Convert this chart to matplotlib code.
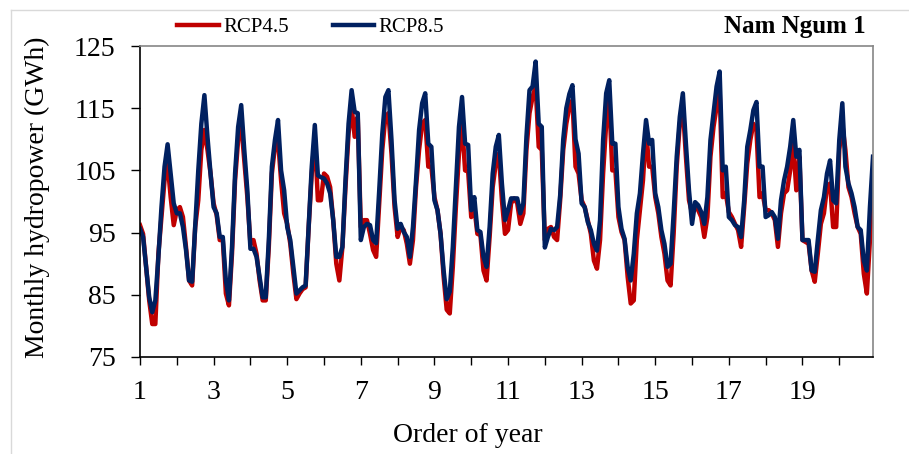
import numpy as np
import matplotlib.pyplot as plt
from matplotlib.lines import Line2D

plt.rcParams['font.family'] = ['Liberation Serif', 'DejaVu Serif']

# monthly hydropower (GWh), 20 years x 12 months
rcp45 = [96.2, 94.8, 89.5, 84.1, 80.3, 80.3, 91.6, 97.5, 103.4, 106.1, 100.7, 96.2,
         98.6, 99.1, 97.5, 92.7, 87.3, 86.5, 95.9, 100.2, 108.3, 111.5, 108.3, 104.5,
         99.7, 97.8, 93.8, 93.8, 85.2, 83.3, 91.6, 103.4, 109.9, 112.5, 106.6, 100.7,
         93.2, 93.8, 91.6, 87.3, 84.1, 84.1, 92.7, 104.5, 108.8, 109.9, 103.4, 98.1,
         96.4, 93.2, 88.4, 84.3, 85.2, 85.9, 86.2, 95.9, 104.5, 110.4, 100.2, 100.2,
         104.5, 104.0, 102.3, 97.0, 90.0, 87.3, 92.7, 102.3, 110.9, 115.2, 110.4, 113.6,
         95.9, 97.0, 97.0, 94.8, 92.2, 91.1, 99.7, 108.3, 113.6, 114.2, 107.7, 99.1,
         94.3, 95.9, 95.4, 93.2, 90.0, 93.8, 102.3, 108.3, 112.5, 113.1, 105.6, 105.6,
         100.7, 98.6, 94.8, 87.9, 82.6, 82.0, 89.5, 99.1, 107.7, 112.5, 105.0, 104.8,
         97.5, 99.1, 94.8, 94.6, 88.9, 87.3, 94.3, 102.3, 106.1, 107.7, 100.2, 94.8,
         95.4, 99.7, 100.5, 99.7, 96.4, 98.1, 108.3, 114.2, 116.8, 118.5, 108.8, 108.3,
         93.8, 95.6, 95.9, 94.3, 93.8, 100.2, 108.3, 112.5, 115.2, 116.3, 105.6, 104.5,
         100.2, 99.1, 97.0, 94.8, 90.5, 89.2, 93.8, 104.5, 112.5, 116.3, 105.0, 105.0,
         97.5, 95.1, 93.8, 87.9, 83.6, 84.1, 93.8, 98.6, 103.4, 111.5, 105.6, 105.6,
         100.7, 98.1, 94.3, 91.6, 87.3, 86.5, 94.8, 105.6, 112.5, 115.2, 107.2, 100.2,
         98.1, 99.1, 98.6, 97.5, 94.3, 97.5, 107.2, 112.0, 115.2, 117.9, 100.7, 101.3,
         98.3, 97.5, 96.4, 95.4, 92.7, 99.1, 106.1, 109.9, 112.5, 111.5, 100.7, 101.3,
         98.6, 98.6, 98.1, 97.0, 92.7, 98.1, 101.3, 101.8, 105.0, 109.3, 101.8, 107.2,
         93.8, 93.5, 93.2, 88.9, 87.1, 91.6, 96.4, 98.1, 102.3, 102.9, 95.9, 95.9,
         108.3, 112.5, 108.3, 102.3, 100.7, 98.1, 95.9, 94.8, 88.4, 85.2, 93.8, 103.4]

rcp85 = [95.6, 94.3, 89.5, 84.6, 82.2, 84.1, 91.1, 99.1, 105.6, 109.2, 104.5, 99.7,
         98.1, 98.1, 95.9, 92.2, 87.3, 87.1, 95.9, 105.0, 112.5, 117.1, 110.4, 104.5,
         99.1, 98.1, 94.3, 94.3, 87.3, 84.1, 92.7, 104.5, 112.0, 115.5, 108.3, 101.8,
         92.4, 92.4, 91.1, 87.9, 84.6, 84.6, 93.8, 105.6, 109.9, 113.1, 105.0, 101.8,
         95.9, 93.8, 89.5, 85.2, 85.7, 86.2, 86.5, 95.9, 105.6, 112.3, 104.2, 103.9,
         103.7, 102.9, 101.3, 97.0, 91.1, 91.1, 92.7, 103.4, 112.5, 117.9, 114.4, 114.2,
         93.8, 95.9, 96.4, 96.2, 93.8, 93.3, 101.8, 110.9, 116.8, 117.9, 109.9, 100.2,
         95.6, 96.4, 95.1, 94.3, 91.1, 95.9, 103.4, 111.5, 115.8, 117.4, 109.3, 108.8,
         100.2, 98.6, 94.8, 88.9, 84.3, 85.5, 92.7, 102.3, 112.0, 116.8, 109.3, 109.1,
         98.6, 100.7, 95.4, 95.1, 91.1, 89.5, 95.9, 104.5, 108.8, 110.7, 102.9, 97.0,
         98.6, 100.5, 100.5, 100.5, 98.1, 99.7, 110.4, 117.9, 118.5, 122.5, 112.5, 112.0,
         92.6, 94.3, 95.6, 95.4, 95.9, 101.0, 110.0, 115.0, 117.3, 118.7, 110.0, 107.7,
         99.7, 99.1, 96.7, 95.4, 93.2, 92.1, 97.0, 109.9, 117.4, 119.5, 109.3, 109.3,
         99.1, 95.6, 94.0, 89.5, 87.3, 91.6, 98.1, 101.3, 107.7, 113.1, 109.3, 109.9,
         101.3, 99.1, 95.4, 93.2, 89.5, 90.0, 98.1, 107.2, 113.6, 117.4, 109.3, 101.8,
         96.4, 99.9, 99.4, 98.3, 96.4, 100.7, 109.9, 114.2, 118.5, 120.9, 105.0, 105.6,
         97.5, 97.0, 96.2, 95.9, 94.3, 100.2, 108.8, 111.5, 114.7, 116.0, 105.6, 105.6,
         97.5, 97.8, 98.3, 97.5, 94.0, 100.2, 103.4, 105.6, 108.8, 113.1, 107.2, 108.3,
         93.8, 93.8, 93.8, 88.9, 88.7, 93.8, 98.6, 100.7, 104.5, 106.6, 100.2, 99.7,
         109.9, 115.8, 105.6, 102.9, 101.3, 99.1, 95.9, 95.4, 90.5, 88.9, 99.1, 107.2]

years = np.arange(1, 21)
year_labels = [str(y) if y % 2 == 1 else '' for y in years]

t = 1 + np.arange(len(rcp45)) / 12.0

fig = plt.figure(figsize=(9.09, 4.54), dpi=100)
ax = fig.add_axes([140/909, 1-357/454, (873-140)/909, (357-46)/454])

ax.plot(t, rcp45, color='#C00000', lw=3.2, label='RCP4.5')
ax.plot(t, rcp85, color='#002060', lw=3.2, label='RCP8.5')

ax.set_xlim(1, t[-1])
ax.set_ylim(75, 125)
ax.set_yticks(np.arange(75, 126, 10))
ax.set_xticks(years)
ax.set_xticklabels(year_labels)

for s in ['left', 'bottom']:
    ax.spines[s].set_color('black')
    ax.spines[s].set_linewidth(1.2)
for s in ['top', 'right']:
    ax.spines[s].set_color('#868686')
    ax.spines[s].set_linewidth(1.2)

ax.tick_params(axis='y', direction='out', length=6.5, width=1, pad=11, labelsize=20)
ax.tick_params(axis='x', direction='out', length=5.8, width=1, pad=11, labelsize=20)

fig.text(37/909, 1-197/454, 'Monthly hydropower (GWh)', rotation=90,
         ha='center', va='center', fontsize=20)
fig.text(468/909, 1-436/454, 'Order of year', ha='center', va='center', fontsize=20)

fig.legend(loc='center left', bbox_to_anchor=(167/909, 1-27/454), ncol=2,
           frameon=False, fontsize=15, handlelength=2.0, handletextpad=0.2,
           columnspacing=2.1, borderpad=0)
fig.text(866/909, 1-27/454, 'Nam Ngum 1', ha='right', va='center',
         fontsize=18, fontweight='bold')

# light chart-area border (left and top)
fig.add_artist(Line2D([11/909, 11/909], [0, 1-10/454], color='#D9D9D9', lw=1))
fig.add_artist(Line2D([11/909, 1], [1-10/454, 1-10/454], color='#D9D9D9', lw=1))

fig.savefig('out.png', dpi=100)
